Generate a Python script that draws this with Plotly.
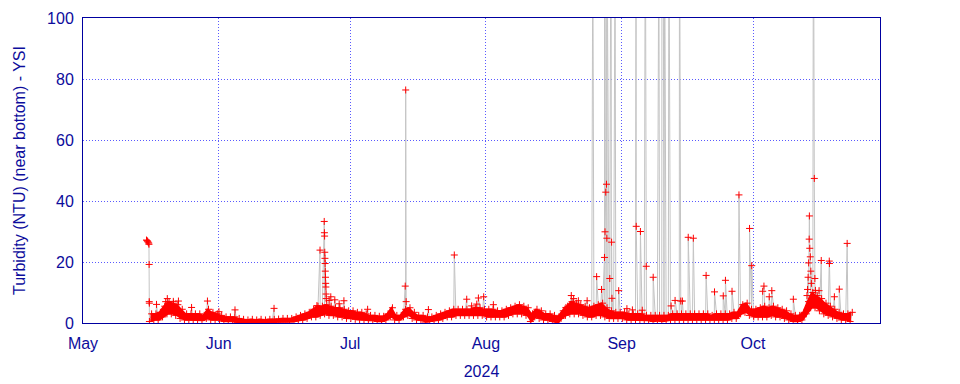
import pandas as pd
import plotly.graph_objects as go

# ---- data ----
month_ticks = ["2024-05-01", "2024-06-01", "2024-07-01", "2024-08-01", "2024-09-01", "2024-10-01"]
month_labels = ["May", "Jun", "Jul", "Aug", "Sep", "Oct"]
y_ticks = [0, 20, 40, 60, 80, 100]

# daily low / high of the dense baseline band (NTU)
may_start = "2024-05-16"
may_lo = [0.5, 1, 1, 2, 3, 3, 2.5, 1.5, 1, 1, 1, 1, 0.8, 1.5, 1, 1]
may_hi = [3, 3, 3.5, 5.5, 7, 6.5, 6, 4.5, 3, 3, 3, 3, 2.5, 4.5, 3.5, 3]
jun_start = "2024-06-01"
jun_lo = [1, 0.5, 0.5, 0.5, 0.2, 0.2, 0, 0.2, 0, 0.2, 0, 0.2, 0.2, 0.3, 0.3, 0.3, 0.3, 0.5, 0.8, 1,
          1.5, 2, 2, 2.5, 3, 2.5, 2.5, 2, 2, 1.5]
jun_hi = [2.5, 2, 2, 2, 1.5, 1.2, 1, 1.2, 1, 1.2, 1, 1.2, 1.2, 1.3, 1.5, 1.5, 1.5, 2, 2.5, 3,
          3.5, 4.5, 5.5, 5.5, 6, 5.5, 5, 5, 4.5, 4]
jul_start = "2024-07-01"
jul_lo = [1.5, 1.2, 1, 1, 0.8, 0.8, 0.5, 0.5, 1, 2, 1, 1, 2, 2.5, 1.5, 1, 0.8, 0.3, 0.5, 0.8,
          1, 1.5, 2, 2, 2.5, 2.5, 2.5, 2.5, 2.5, 2.5, 2.5]
jul_hi = [4, 3.5, 3.5, 3, 2.5, 2.5, 2.2, 2.2, 3, 5, 2.5, 2.5, 4.5, 5, 3.5, 2.5, 2.5, 2, 2, 2.5,
          3, 3.5, 4, 4.5, 4.5, 4.5, 4.5, 4.5, 5, 5, 4.5]
aug_start = "2024-08-01"
aug_lo = [2, 2, 2, 2, 2, 2.5, 3, 3, 3, 2.5, 0.5, 2, 1.5, 1, 1, 0.5, 0, 1.5, 2.5, 3,
          3, 3, 2.5, 2, 2, 2.5, 2.5, 2, 1.5, 1.5, 1.5]
aug_hi = [4.5, 4.5, 4, 4, 4.5, 5, 5.5, 6, 5.5, 5, 3, 4.5, 4, 3, 3, 2.5, 2, 4, 5.5, 7,
          6.5, 6, 5.5, 5, 5.5, 6, 6.5, 5, 4, 3.5, 3.5]
sep_start = "2024-09-01"
sep_lo = [1.5, 1, 1, 1, 1, 0.8, 0.8, 0.5, 0.8, 0.5, 0.8, 1, 1, 1, 1, 1, 1, 1, 1, 1,
          1, 1, 1, 1, 1, 1.5, 1.5, 3, 3.5, 2.5]
sep_hi = [3.5, 3, 3, 3, 3, 2.5, 2.5, 2.5, 2.5, 2.5, 2.5, 3, 3, 3, 3, 3, 3, 3, 3, 3,
          2.5, 3, 3, 3, 3, 3.5, 3.5, 6, 6.5, 4.5]
oct_start = "2024-10-01"
oct_lo = [2, 2, 2, 2, 2.5, 2, 2, 1.5, 1, 0.5, 0.5, 1, 3, 5, 5, 4, 3, 2.5, 2, 1.5, 1, 1, 0.5]
oct_hi = [4.5, 5, 5.5, 5, 5.5, 5, 4.5, 4, 3, 2.5, 2.5, 3.5, 7, 10, 9, 8, 6.5, 5.5, 4.5, 3.5, 3, 3, 3.5]

# individual spikes / excursions (values > 100 run off the top of the chart)
spike_times = [
    "2024-05-15 12:00", "2024-05-15 15:00", "2024-05-15 18:00", "2024-05-15 21:00",
    "2024-05-16 00:00", "2024-05-16 01:30", "2024-05-16 02:30", "2024-05-16 03:00",
    "2024-05-16 03:30", "2024-05-17 19:00", "2024-05-19 21:00", "2024-05-20 06:00",
    "2024-05-21 15:00", "2024-05-22 19:00", "2024-05-25 19:00", "2024-05-29 10:00",
    "2024-06-01 01:00", "2024-06-04 17:00", "2024-06-13 15:00", "2024-06-23 10:00",
    "2024-06-24 03:00", "2024-06-25 02:00", "2024-06-25 03:00", "2024-06-25 04:00",
    "2024-06-25 05:00", "2024-06-25 06:00", "2024-06-25 07:00", "2024-06-25 08:00",
    "2024-06-25 09:00", "2024-06-25 10:00", "2024-06-25 11:00", "2024-06-25 12:00",
    "2024-06-25 13:00", "2024-06-26 05:00", "2024-06-26 14:00", "2024-06-27 12:00",
    "2024-06-28 12:00", "2024-06-29 14:00",
    "2024-07-05 00:00", "2024-07-13 14:00", "2024-07-13 16:30", "2024-07-13 19:00",
    "2024-07-18 21:00", "2024-07-24 19:00", "2024-07-27 15:00", "2024-07-28 18:00",
    "2024-07-29 22:00", "2024-07-30 07:00", "2024-07-31 12:00",
    "2024-08-02 17:00", "2024-08-19 07:00", "2024-08-20 12:00", "2024-08-21 01:00",
    "2024-08-22 03:00", "2024-08-24 03:00", "2024-08-25 10:00", "2024-08-26 07:00",
    "2024-08-27 10:00", "2024-08-28 02:00", "2024-08-28 03:00", "2024-08-28 05:00",
    "2024-08-28 09:00", "2024-08-28 11:00", "2024-08-28 13:00", "2024-08-28 15:00",
    "2024-08-28 17:00", "2024-08-29 07:00", "2024-08-29 14:00", "2024-08-29 17:00",
    "2024-08-29 19:00", "2024-08-30 12:00", "2024-08-31 08:00",
    "2024-09-02 05:00", "2024-09-03 11:00", "2024-09-04 07:00", "2024-09-04 08:00",
    "2024-09-05 07:00", "2024-09-05 17:00", "2024-09-06 10:00", "2024-09-06 15:00",
    "2024-09-08 05:00", "2024-09-09 12:00", "2024-09-10 05:00", "2024-09-10 12:00",
    "2024-09-10 20:00", "2024-09-11 19:00", "2024-09-12 07:00", "2024-09-13 05:00",
    "2024-09-14 05:00", "2024-09-14 12:00", "2024-09-14 21:00", "2024-09-16 05:00",
    "2024-09-17 09:00", "2024-09-20 07:00", "2024-09-22 05:00", "2024-09-24 05:00",
    "2024-09-24 17:00", "2024-09-26 05:00", "2024-09-27 19:00", "2024-09-30 05:00",
    "2024-09-30 17:00",
    "2024-10-03 05:00", "2024-10-03 12:00", "2024-10-04 17:00", "2024-10-05 07:00",
    "2024-10-10 05:00", "2024-10-13 08:00", "2024-10-13 11:00", "2024-10-13 14:00",
    "2024-10-13 17:00", "2024-10-13 20:00", "2024-10-13 21:00", "2024-10-13 23:00",
    "2024-10-14 02:00", "2024-10-14 05:00", "2024-10-14 08:00", "2024-10-14 19:00",
    "2024-10-15 00:00", "2024-10-15 03:00", "2024-10-15 06:00", "2024-10-16 02:00",
    "2024-10-16 14:00", "2024-10-18 10:00", "2024-10-18 11:00", "2024-10-19 14:00",
    "2024-10-20 17:00", "2024-10-22 12:00",
]
spike_values = [
    27.2, 27.0, 26.8, 26.5,
    26.2, 25.8, 19.2, 7.0,
    6.5, 6.1, 7.0, 8.0,
    7.1, 7.2, 5.1, 7.2,
    3.7, 4.3, 4.8, 5.7,
    23.9, 33.3, 29.6, 28.5,
    23.2, 21.2, 19.5, 17.0,
    15.0, 13.0, 11.8, 9.5,
    8.0, 7.4, 8.6, 7.6,
    6.3, 7.3,
    4.5, 12.1, 76.4, 7.0,
    4.4, 22.3, 7.8, 5.6,
    6.2, 8.2, 8.6,
    6.0, 5.1, 9.0, 8.0,
    7.3, 7.3, 130, 15.2,
    11.0, 21.5, 150, 29.9,
    42.9, 140, 45.5, 27.8,
    120, 14.6, 160, 26.5,
    8.1, 125, 10.6,
    4.7, 4.3, 135, 31.7,
    30.0, 4.2, 145, 18.6,
    15.0, 130, 155, 140,
    125, 135, 5.6, 7.4,
    150, 7.2, 7.2, 28.1,
    27.8, 15.6, 10.2, 8.9,
    14.0, 10.4, 42.0, 31.0,
    18.8,
    10.4, 12.1, 8.6, 10.6,
    7.8, 9.0, 11.0, 15.0,
    19.7, 27.5, 35.1, 24.5,
    21.7, 17.0, 13.0, 150,
    47.4, 14.6, 10.7, 10.6,
    20.5, 20.3, 19.5, 8.6,
    11.1, 26.1,
]

# ---- assemble the series ----
rows = []
band_t, band_lo, band_hi = [], [], []
for start, lo, hi in [(may_start, may_lo, may_hi), (jun_start, jun_lo, jun_hi),
                      (jul_start, jul_lo, jul_hi), (aug_start, aug_lo, aug_hi),
                      (sep_start, sep_lo, sep_hi), (oct_start, oct_lo, oct_hi)]:
    days = pd.date_range(start, periods=len(lo), freq="D")
    for d, a, b in zip(days, lo, hi):
        rows.append((d + pd.Timedelta(hours=4), a))
        rows.append((d + pd.Timedelta(hours=16), b))
        band_t.append(d + pd.Timedelta(hours=10))
        band_lo.append(a)
        band_hi.append(b)
for t, v in zip(spike_times, spike_values):
    rows.append((pd.Timestamp(t), v))
df = pd.DataFrame(rows, columns=["time", "ntu"]).sort_values("time")

ink = "#0c0c9c"
frame = "#0000a0"
grid = "#5a5aff"
red = "#ff0000"

fig = go.Figure()
# connecting lines (light grey)
fig.add_trace(go.Scatter(
    x=df["time"], y=df["ntu"], mode="lines",
    line=dict(color="#c4c4c4", width=1), hoverinfo="skip",
))
# dense band of readings
fig.add_trace(go.Scatter(
    x=band_t, y=band_lo, mode="lines",
    line=dict(color=red, width=1.5), hoverinfo="skip",
))
fig.add_trace(go.Scatter(
    x=band_t, y=band_hi, mode="lines", fill="tonexty", fillcolor=red,
    line=dict(color=red, width=1.5), hoverinfo="skip",
))
# individual readings
fig.add_trace(go.Scatter(
    x=df["time"], y=df["ntu"], mode="markers",
    marker=dict(symbol="cross-thin", size=5, color=red,
                line=dict(color=red, width=1)),
    hoverinfo="x+y",
))

fig.update_layout(
    width=960, height=384,
    margin=dict(l=75, r=88, t=10, b=69),
    paper_bgcolor="white", plot_bgcolor="white",
    showlegend=False,
    font=dict(family="Liberation Sans, Arial, sans-serif", size=16, color=ink),
)
fig.update_xaxes(
    type="date", range=["2024-05-01", "2024-10-30"],
    tickvals=month_ticks, ticktext=month_labels, ticks="",
    ticklabelstandoff=6,
    showgrid=True, gridcolor=grid, griddash="1px,2px", gridwidth=1,
    showline=True, linecolor=frame, linewidth=1, mirror=True, zeroline=False,
    title=dict(text="2024", standoff=14, font=dict(size=16, color=ink)),
    automargin=False,
)
fig.update_yaxes(
    range=[0, 100], tickvals=y_ticks, ticks="",
    ticklabelstandoff=5,
    showgrid=True, gridcolor=grid, griddash="1px,2px", gridwidth=1,
    showline=True, linecolor=frame, linewidth=1, mirror=True, zeroline=False,
    title=dict(text="Turbidity (NTU) (near bottom) - YSI", standoff=17,
               font=dict(size=16, color=ink)),
    automargin=False,
)

fig.write_html("out.html")
